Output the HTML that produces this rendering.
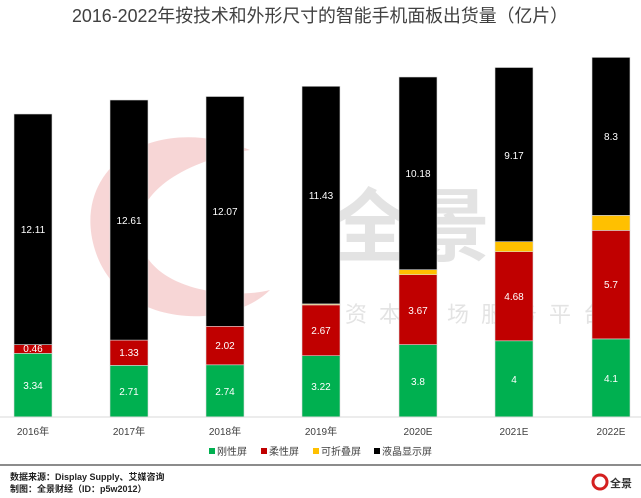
<!DOCTYPE html>
<html><head><meta charset="utf-8"><style>
html,body{margin:0;padding:0;background:#fff;}
svg{display:block;font-family:"Liberation Sans","Noto Sans CJK SC",sans-serif;}
</style></head><body>
<svg width="641" height="498" viewBox="0 0 641 498" xmlns="http://www.w3.org/2000/svg">
<rect width="641" height="498" fill="#fff"/>
<!-- watermark -->
<g opacity="0.35">
<path d="M250 150 C150 110 70 170 95 250 C120 330 230 330 270 290 C230 300 150 290 140 240 C130 190 190 160 250 150 Z" fill="#e88a8a"/>
<text x="330" y="255" font-size="80" font-weight="bold" fill="#b0b0b0">全景</text>
<text x="345" y="322" font-size="22" fill="#b0b0b0" letter-spacing="12">资本市场服务平台</text>
</g>
<text x="320" y="22" font-size="18" fill="#404040" text-anchor="middle" textLength="496" lengthAdjust="spacingAndGlyphs">2016-2022年按技术和外形尺寸的智能手机面板出货量（亿片）</text>
<g stroke="#d9d9d9" stroke-width="0.6">
<!-- 2016 -->
<rect x="14" y="353.4" width="38" height="63.6" fill="#00b050"/>
<rect x="14" y="344.6" width="38" height="8.8" fill="#c00000"/>
<rect x="14" y="114" width="38" height="230.6" fill="#000"/>
<!-- 2017 -->
<rect x="110" y="365.4" width="38" height="51.6" fill="#00b050"/>
<rect x="110" y="340.1" width="38" height="25.3" fill="#c00000"/>
<rect x="110" y="100" width="38" height="240.1" fill="#000"/>
<!-- 2018 -->
<rect x="206" y="364.8" width="38" height="52.2" fill="#00b050"/>
<rect x="206" y="326.3" width="38" height="38.5" fill="#c00000"/>
<rect x="206" y="96.5" width="38" height="229.8" fill="#000"/>
<!-- 2019 -->
<rect x="302" y="355.7" width="38" height="61.3" fill="#00b050"/>
<rect x="302" y="304.9" width="38" height="50.8" fill="#c00000"/>
<rect x="302" y="303.9" width="38" height="1" fill="#ffc000"/>
<rect x="302" y="86.3" width="38" height="217.6" fill="#000"/>
<!-- 2020 -->
<rect x="399" y="344.6" width="38" height="72.4" fill="#00b050"/>
<rect x="399" y="274.7" width="38" height="69.9" fill="#c00000"/>
<rect x="399" y="269.7" width="38" height="5" fill="#ffc000"/>
<rect x="399" y="77" width="38" height="192.7" fill="#000"/>
<!-- 2021 -->
<rect x="495" y="340.8" width="38" height="76.2" fill="#00b050"/>
<rect x="495" y="251.7" width="38" height="89.1" fill="#c00000"/>
<rect x="495" y="241.7" width="38" height="10" fill="#ffc000"/>
<rect x="495" y="67.5" width="38" height="174.2" fill="#000"/>
<!-- 2022 -->
<rect x="592" y="338.9" width="38" height="78.1" fill="#00b050"/>
<rect x="592" y="230.4" width="38" height="108.5" fill="#c00000"/>
<rect x="592" y="215.4" width="38" height="15" fill="#ffc000"/>
<rect x="592" y="57.4" width="38" height="158" fill="#000"/>
</g>
<line x1="0" y1="417" x2="641" y2="417" stroke="#d9d9d9" stroke-width="1"/>
<g font-size="10" fill="#fff" text-anchor="middle">
<text x="33" y="389">3.34</text><text x="33" y="352">0.46</text><text x="33" y="233">12.11</text>
<text x="129" y="395">2.71</text><text x="129" y="356">1.33</text><text x="129" y="224">12.61</text>
<text x="225" y="395">2.74</text><text x="225" y="349">2.02</text><text x="225" y="215">12.07</text>
<text x="321" y="390">3.22</text><text x="321" y="334">2.67</text><text x="321" y="199">11.43</text>
<text x="418" y="385">3.8</text><text x="418" y="314">3.67</text><text x="418" y="177">10.18</text>
<text x="514" y="383">4</text><text x="514" y="300">4.68</text><text x="514" y="159">9.17</text>
<text x="611" y="382">4.1</text><text x="611" y="288">5.7</text><text x="611" y="140">8.3</text>
</g>
<g font-size="10" fill="#404040" text-anchor="middle">
<text x="33" y="435">2016年</text><text x="129" y="435">2017年</text><text x="225" y="435">2018年</text>
<text x="321" y="435">2019年</text><text x="418" y="435">2020E</text><text x="514" y="435">2021E</text><text x="611" y="435">2022E</text>
</g>
<g font-size="10" fill="#404040">
<rect x="209" y="448" width="6" height="6" fill="#00b050"/><text x="217" y="455">刚性屏</text>
<rect x="261" y="448" width="6" height="6" fill="#c00000"/><text x="269" y="455">柔性屏</text>
<rect x="313" y="448" width="6" height="6" fill="#ffc000"/><text x="321" y="455">可折叠屏</text>
<rect x="374" y="448" width="6" height="6" fill="#000"/><text x="382" y="455">液晶显示屏</text>
</g>
<rect x="0" y="464" width="641" height="2" fill="#8c8c8c"/>
<g font-size="9" font-weight="bold" fill="#222">
<text x="10" y="480">数据来源：Display  Supply、艾媒咨询</text>
<text x="10" y="492">制图：全景财经（ID：p5w2012）</text>
</g>
<circle cx="600" cy="482" r="7" fill="none" stroke="#d42020" stroke-width="3"/>
<text x="610" y="487" font-size="11" font-weight="bold" fill="#333">全景</text>
</svg>
</body></html>
